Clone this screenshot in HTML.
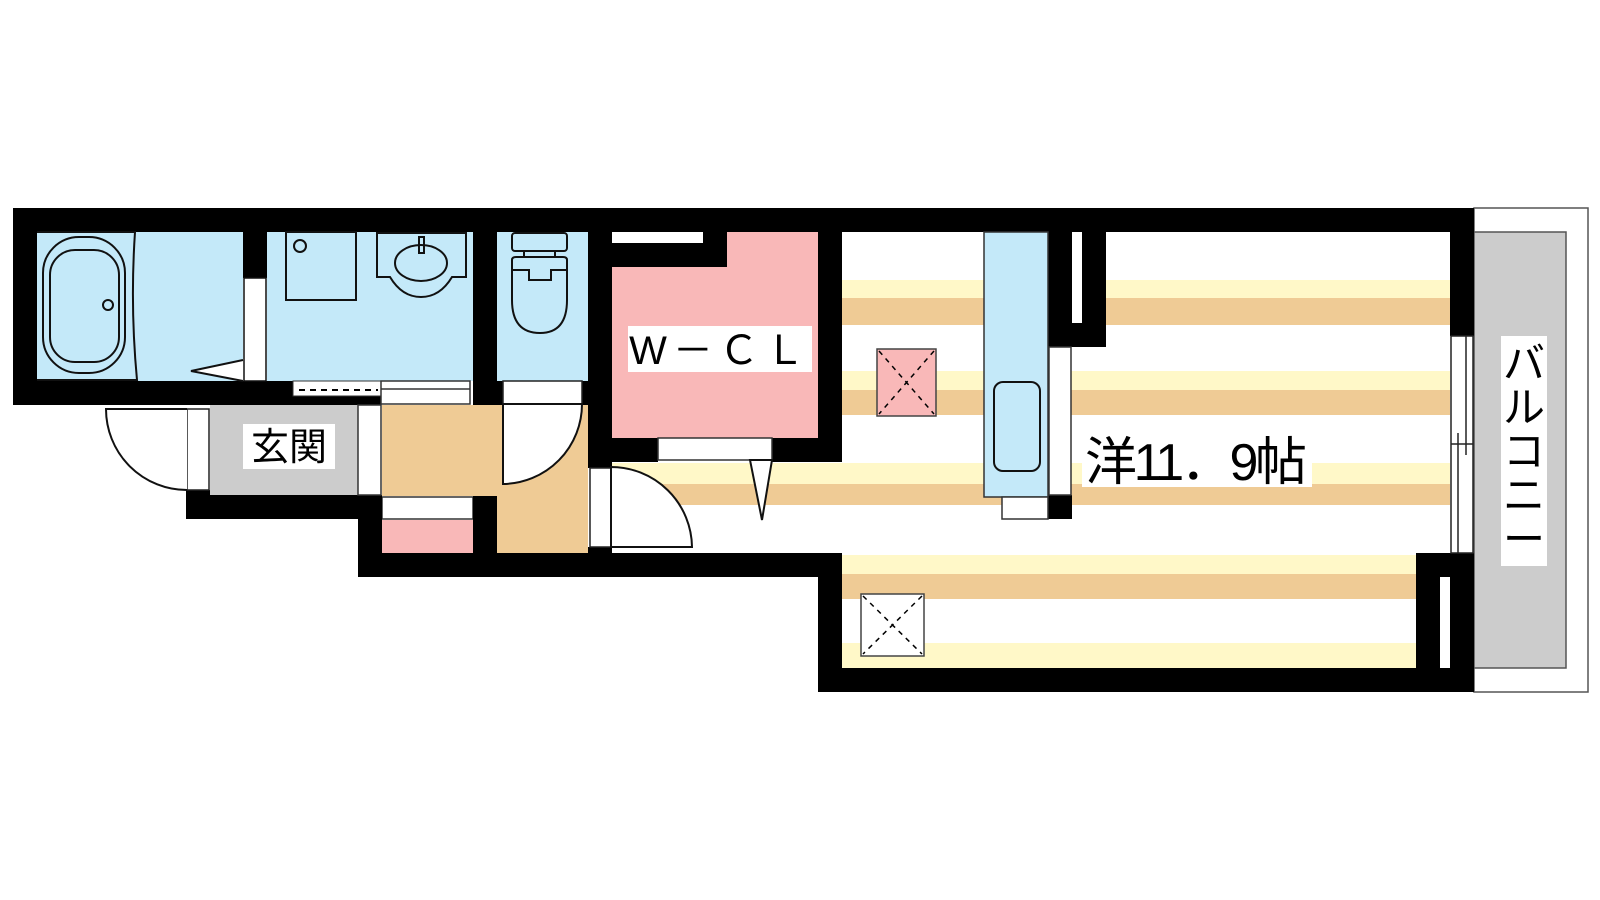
<!DOCTYPE html>
<html><head><meta charset="utf-8"><style>
html,body{margin:0;padding:0;background:#fff;}
svg{display:block;}
text{font-family:"Liberation Sans","Noto Sans CJK JP",sans-serif;}
</style></head><body>
<svg width="1600" height="900" viewBox="0 0 1600 900" xmlns="http://www.w3.org/2000/svg">
<!-- balcony -->
<rect x="1474" y="208" width="114" height="484" fill="#fff" stroke="#555" stroke-width="1.5"/>
<rect x="1474" y="232" width="92" height="436" fill="#cccccc" stroke="#555" stroke-width="1.5"/>
<rect x="1501" y="336" width="46" height="230" fill="#fff"/>
<g font-size="42" fill="#000" text-anchor="middle">
<text x="1524" y="378">バ</text>
<text x="1524" y="422">ル</text>
<text x="1524" y="466">コ</text>
<text x="1524" y="510">ニ</text>
<text x="1524" y="554">ー</text>
</g>

<!-- room floor stripes -->
<g>
<rect x="842" y="280" width="608" height="18" fill="#fff8c8"/>
<rect x="842" y="298" width="608" height="27" fill="#efcb95"/>
<rect x="842" y="371" width="608" height="19" fill="#fff8c8"/>
<rect x="842" y="390" width="608" height="25" fill="#efcb95"/>
<rect x="612" y="463" width="838" height="21" fill="#fff8c8"/>
<rect x="612" y="484" width="838" height="21" fill="#efcb95"/>
<rect x="842" y="555" width="574" height="19" fill="#fff8c8"/>
<rect x="842" y="574" width="574" height="25" fill="#efcb95"/>
<rect x="842" y="643" width="574" height="25" fill="#fff8c8"/>
</g>

<!-- wet areas -->
<rect x="37" y="232" width="206" height="149" fill="#c4e9f9"/>
<rect x="267" y="232" width="206" height="149" fill="#c4e9f9"/>
<rect x="497" y="232" width="91" height="149" fill="#c4e9f9"/>
<!-- WCL -->
<rect x="612" y="267" width="206" height="171" fill="#f9b8b8"/>
<rect x="727" y="232" width="91" height="35" fill="#f9b8b8"/>
<rect x="612" y="243" width="115" height="24" fill="#000"/>
<rect x="703" y="232" width="24" height="11" fill="#000"/>
<!-- genkan & hall -->
<rect x="210" y="405" width="148" height="90" fill="#cccccc"/>
<rect x="382" y="405" width="206" height="91" fill="#efcb95"/>
<rect x="497" y="496" width="91" height="57" fill="#efcb95"/>
<rect x="382" y="497" width="91" height="22" fill="#fff" stroke="#333" stroke-width="1.5"/>
<rect x="382" y="520" width="91" height="33" fill="#f9b8b8"/>

<!-- walls -->
<g fill="#000">
<rect x="13" y="208" width="1461" height="24"/>
<rect x="13" y="208" width="24" height="197"/>
<rect x="13" y="381" width="280" height="24"/>
<rect x="243" y="232" width="24" height="46"/>
<rect x="473" y="232" width="24" height="173"/>
<rect x="473" y="496" width="24" height="81"/>
<rect x="186" y="495" width="196" height="24"/>
<rect x="186" y="490" width="24" height="29"/>
<rect x="358" y="495" width="24" height="82"/>
<rect x="358" y="553" width="484" height="24"/>
<rect x="588" y="232" width="24" height="236"/>
<rect x="588" y="547" width="24" height="10"/>
<rect x="588" y="438" width="70" height="24"/>
<rect x="772" y="438" width="70" height="24"/>
<rect x="818" y="232" width="24" height="230"/>
<rect x="818" y="553" width="24" height="139"/>
<rect x="818" y="668" width="656" height="24"/>
<rect x="1450" y="208" width="24" height="128"/>
<rect x="1450" y="553" width="24" height="139"/>
<rect x="1416" y="553" width="58" height="24"/>
<rect x="1416" y="577" width="24" height="91"/>
<rect x="1048" y="232" width="58" height="115"/>
<rect x="1048" y="495" width="24" height="24"/>
<rect x="293" y="396" width="88" height="9"/>
<rect x="473" y="381" width="30" height="24"/>
<rect x="582" y="381" width="6" height="24"/>
</g>
<rect x="612" y="232" width="91" height="11" fill="#fff"/>
<rect x="1072" y="232" width="10" height="91" fill="#fff"/>
<rect x="1440" y="577" width="10" height="91" fill="#fff"/>

<!-- window -->
<g stroke="#222" stroke-width="1.5" fill="#fff">
<rect x="1451" y="336" width="22" height="217"/>
<line x1="1466" y1="336" x2="1466" y2="455"/>
<line x1="1458" y1="433" x2="1458" y2="553"/>
<line x1="1451" y1="444" x2="1473" y2="444"/>
</g>

<!-- bath fixtures -->
<g fill="none" stroke="#111" stroke-width="2">
<path d="M37,232 H135 Q130,306 137,380 H37"/>
<rect x="43" y="237" width="82" height="136" rx="36"/>
<rect x="50" y="250" width="69" height="112" rx="25"/>
<circle cx="108" cy="305" r="5"/>
</g>
<path d="M243,360 L191,371 L243,381 Z" fill="#fff"/>
<path d="M243,360 L191,371 L243,381" fill="none" stroke="#111" stroke-width="2"/>
<rect x="244" y="278" width="22" height="103" fill="#fff" stroke="#111" stroke-width="1.5"/>
<g fill="none" stroke="#111" stroke-width="2">
<rect x="286" y="232" width="70" height="68"/>
<circle cx="300" cy="246" r="6"/>
<path d="M377,233 H466 V277 H452 Q440,297 421,297 Q402,297 390,277 H377 Z"/>
<ellipse cx="421" cy="263" rx="26" ry="18"/>
<rect x="419" y="237" width="5" height="16"/>
<!-- toilet -->
<rect x="512" y="233" width="55" height="18" rx="3"/>
<rect x="524" y="251" width="31" height="6"/>
<path d="M512,260 Q512,257 516,257 H563 Q567,257 567,260 V300 Q567,333 540,333 Q512,333 512,300 Z"/>
<path d="M512,270 H529 V280 H551 V270 H567"/>
</g>

<!-- sliding door bath -->
<rect x="293" y="381" width="88" height="15" fill="#fff" stroke="#333" stroke-width="1"/>
<line x1="299" y1="390" x2="378" y2="390" stroke="#000" stroke-width="2" stroke-dasharray="6,5"/>
<rect x="381" y="381" width="89" height="23" fill="#fff" stroke="#333" stroke-width="1.5"/>
<line x1="381" y1="389" x2="470" y2="389" stroke="#333" stroke-width="1.5"/>

<!-- entrance door -->
<rect x="187" y="409" width="22" height="81" fill="#fff" stroke="#222" stroke-width="1.5"/>
<path d="M187,409 H106 A81,81 0 0 0 187,490" fill="#fff" stroke="#111" stroke-width="2"/>
<rect x="358" y="405" width="23" height="90" fill="#fff" stroke="#333" stroke-width="1.5"/>
<rect x="243" y="424" width="92" height="45" fill="#fff"/>
<text x="289" y="460" font-size="38" text-anchor="middle">玄関</text>

<!-- toilet door -->
<rect x="503" y="381" width="79" height="23" fill="#fff" stroke="#222" stroke-width="1.5"/>
<path d="M503,404 V484 A80,80 0 0 0 582,404 Z" fill="#fff" stroke="#111" stroke-width="2"/>

<!-- room door -->
<rect x="590" y="468" width="21" height="79" fill="#fff" stroke="#222" stroke-width="1.5"/>
<path d="M611,547 H692 A81,81 0 0 0 611,467 Z" fill="#fff" stroke="#111" stroke-width="2"/>

<!-- WCL door -->
<rect x="658" y="438" width="114" height="22" fill="#fff" stroke="#333" stroke-width="1.5"/>
<path d="M750,460 L772,460 L762,520 Z" fill="#fff" stroke="#111" stroke-width="2"/>
<rect x="628" y="326" width="184" height="46" fill="#fff"/>
<text x="720" y="364" font-size="40" text-anchor="middle" letter-spacing="6">W－ＣＬ</text>

<!-- kitchen -->
<rect x="984" y="232" width="64" height="265" fill="#c4e9f9" stroke="#333" stroke-width="1.5"/>
<rect x="994" y="382" width="46" height="89" rx="9" fill="none" stroke="#111" stroke-width="2"/>
<rect x="1002" y="497" width="46" height="22" fill="#fff" stroke="#333" stroke-width="1.5"/>
<rect x="1049" y="347" width="22" height="148" fill="#fff" stroke="#333" stroke-width="1.5"/>

<!-- vents -->
<rect x="877" y="349" width="59" height="67" fill="#f9b8b8" stroke="#444" stroke-width="1.5"/>
<path d="M879,351 L934,414 M934,351 L879,414" stroke="#000" stroke-width="1.5" stroke-dasharray="5,5"/>
<rect x="861" y="594" width="63" height="62" fill="#fff" stroke="#444" stroke-width="1.5"/>
<path d="M863,596 L922,654 M922,596 L863,654" stroke="#000" stroke-width="1.5" stroke-dasharray="5,5"/>

<!-- room label -->
<rect x="1082" y="432" width="230" height="55" fill="#fff"/>
<text x="1085" y="480" font-size="52" textLength="222" lengthAdjust="spacing">洋11．9帖</text>
</svg>
</body></html>
